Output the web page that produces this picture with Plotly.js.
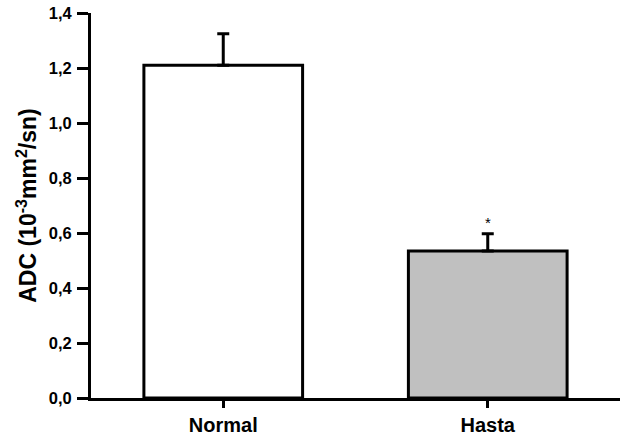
<!DOCTYPE html>
<html>
<head>
<meta charset="utf-8">
<script src="https://cdn.plot.ly/plotly-3.0.1.min.js"></script>
<style>html,body{margin:0;padding:0;background:#fff;}#chart{width:624px;height:436px;}</style>
</head>
<body>
<div id="chart"></div>
<script>
const categories = ['Normal', 'Hasta'];
const means = [1.21, 0.535];
const errorsUp = [0.115, 0.062];
const barColors = ['#ffffff', '#c0c0c0'];
const yTickVals = [0, 0.2, 0.4, 0.6, 0.8, 1.0, 1.2, 1.4];
const yTickText = ['0,0', '0,2', '0,4', '0,6', '0,8', '1,0', '1,2', '1,4'];
const significance = ['', '*'];

const font = {family: 'Liberation Sans, Arial, sans-serif', color: '#000', weight: 700};

const trace = {
  type: 'bar',
  x: [0, 1],
  y: means,
  width: 0.6,
  marker: {color: barColors, line: {color: '#000', width: 3}},
  error_y: {type: 'data', symmetric: false, array: errorsUp, arrayminus: [0, 0], color: '#000', thickness: 3, width: 6},
  hoverinfo: 'skip'
};

const annotations = significance.map((s, i) => ({
  x: i, y: means[i] + errorsUp[i], text: s, showarrow: false,
  yanchor: 'bottom', yshift: 1, font: Object.assign({}, font, {size: 15, weight: 400})
})).filter(a => a.text);

const layout = {
  width: 624, height: 436,
  margin: {l: 91, r: 4, t: 13, b: 38},
  paper_bgcolor: '#fff', plot_bgcolor: '#fff',
  showlegend: false,
  font: font,
  xaxis: {
    range: [-0.5, 1.5],
    tickvals: [0, 1], ticktext: categories,
    ticks: 'outside', ticklen: 7, tickwidth: 3, tickcolor: '#000',
    showline: true, linecolor: '#000', linewidth: 3,
    showgrid: false, zeroline: false,
    tickfont: Object.assign({}, font, {size: 20})
  },
  yaxis: {
    range: [0, 1.4],
    tickvals: yTickVals, ticktext: yTickText,
    ticks: 'outside', ticklen: 11, tickwidth: 3, tickcolor: '#000',
    showline: true, linecolor: '#000', linewidth: 3,
    showgrid: false, zeroline: false,
    ticklabelstandoff: 2,
    tickfont: Object.assign({}, font, {size: 16.5}),
    title: {text: 'ADC (10<sup>-3</sup>mm<sup>2</sup>/sn)', font: Object.assign({}, font, {size: 23}), standoff: 6}
  },
  annotations: annotations
};

Plotly.newPlot('chart', [trace], layout, {displayModeBar: false, staticPlot: true});
</script>
</body>
</html>
